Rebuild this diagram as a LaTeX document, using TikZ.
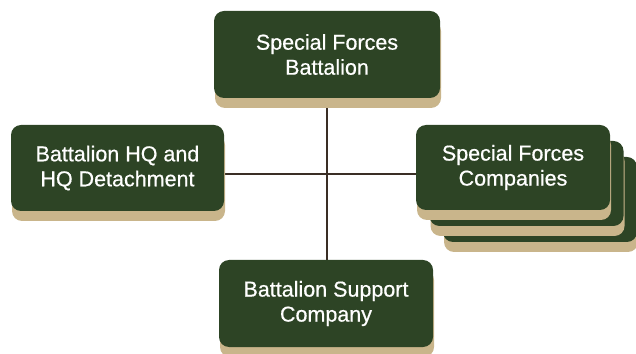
\documentclass[tikz,border=0pt]{standalone}
\usepackage{fontspec}
\newfontfamily\unitfont{Liberation Sans}[BoldFont=Liberation Sans,BoldFeatures={FakeBold=0.6}]
\usepackage{tikz}
\usetikzlibrary{shadows,backgrounds}
\definecolor{armygreen}{HTML}{2D4425}
\definecolor{khaki}{HTML}{C9B58B}
\definecolor{linkbrown}{HTML}{3A2E25}
\begin{document}
\begin{tikzpicture}[x=1pt,y=1pt]
  \tikzstyle{unit}=[rectangle,rounded corners=10pt,fill=armygreen,text=white,
    align=center,inner sep=0pt,font=\unitfont\bfseries\fontsize{21.5}{25}\selectfont,
    general shadow={fill=khaki,shadow xshift=1pt,shadow yshift=-10pt}]
  \tikzstyle{link}=[draw=linkbrown,line width=2.4pt]
  \useasboundingbox (0,0) rectangle (636,353);

  \node[unit, minimum width=226pt, minimum height=87pt] (bn) at (327,298.5) {Special Forces\\Battalion};
  \node[unit, minimum width=213pt, minimum height=86pt] (hq) at (117.5,185) {Battalion HQ and\\HQ Detachment};

  % stacked companies
  \node[unit, minimum width=194pt, minimum height=85pt] (co3) at (540,153.5) {};
  \node[unit, minimum width=194pt, minimum height=85pt] (co2) at (526.5,169.5) {};
  \node[unit, minimum width=194pt, minimum height=85pt] (co1) at (513,185.5) {Special Forces\\Companies};

  \node[unit, minimum width=214pt, minimum height=87pt] (sup) at (326,49.5) {Battalion Support\\Company};

  % edges
  \coordinate (hub) at (327,179);
  \begin{scope}[on background layer]
    \draw[link] (bn.south) -- (hub |- sup.north);
    \draw[link] (hq.east |- hub) -- (co1.west |- hub);
  \end{scope}
\end{tikzpicture}
\end{document}
